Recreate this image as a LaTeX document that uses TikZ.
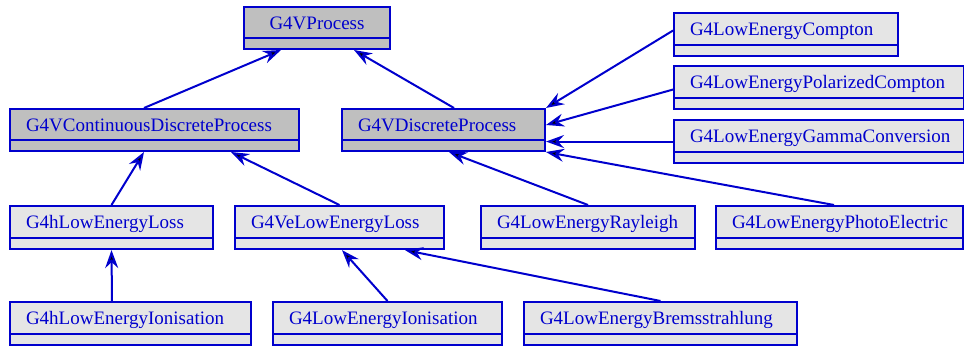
\documentclass[tikz,border=0pt]{standalone}
\usepackage{fontspec}
\setmainfont{Liberation Serif}
\usetikzlibrary{shapes.multipart,arrows.meta}
\definecolor{linkblue}{RGB}{0,0,205}
\definecolor{absgray}{RGB}{191,191,191}
\definecolor{clsgray}{RGB}{229,229,229}
\newcommand{\clsstrut}{\rule[-3pt]{0pt}{20pt}}
\newcommand{\clsname}[1]{\clsstrut#1\nodepart{two}}
\tikzset{
  classbox/.style={rectangle split, rectangle split parts=2, draw=linkblue, line width=2pt,
    text=linkblue, font=\fontsize{19}{22}\selectfont, inner xsep=16pt, inner ysep=4.5pt,
    rectangle split empty part height=0pt, anchor=north west, align=left},
  abstractclass/.style={classbox, fill=absgray},
  plainclass/.style={classbox, fill=clsgray},
  inherit/.style={draw=linkblue, line width=2pt, -{Stealth[length=18pt,width=13pt,inset=6pt]}}
}
\begin{document}
\begin{tikzpicture}[x=1pt,y=1pt]
  \useasboundingbox (0,0) rectangle (964,-347);
  % abstract base classes
  \node [abstractclass, text width=114pt, align=center] (vprocess) at (243,-6) {\clsname{G4VProcess}};
  \node [abstractclass, text width=257pt] (contdisc) at (9,-108) {\clsname{G4VContinuousDiscreteProcess}};
  \node [abstractclass, text width=171pt] (discrete) at (341,-108) {\clsname{G4VDiscreteProcess}};
  % photon processes
  \node [plainclass, text width=192pt] (compton) at (673,-12) {\clsname{G4LowEnergyCompton}};
  \node [plainclass, text width=258pt] (polcompton) at (673,-65) {\clsname{G4LowEnergyPolarizedCompton}};
  \node [plainclass, text width=258pt] (gammaconv) at (673,-119) {\clsname{G4LowEnergyGammaConversion}};
  \node [plainclass, text width=182pt] (rayleigh) at (480,-205) {\clsname{G4LowEnergyRayleigh}};
  \node [plainclass, text width=215pt] (photoel) at (715,-205) {\clsname{G4LowEnergyPhotoElectric}};
  % energy loss
  \node [plainclass, text width=171pt] (hloss) at (9,-205) {\clsname{G4hLowEnergyLoss}};
  \node [plainclass, text width=177pt] (veloss) at (234,-205) {\clsname{G4VeLowEnergyLoss}};
  \node [plainclass, text width=209pt] (hionis) at (9,-301) {\clsname{G4hLowEnergyIonisation}};
  \node [plainclass, text width=197pt] (eionis) at (272,-301) {\clsname{G4LowEnergyIonisation}};
  \node [plainclass, text width=241pt] (brems) at (523,-301) {\clsname{G4LowEnergyBremsstrahlung}};

  % inheritance
  \draw [inherit] ([xshift=-10.5pt]contdisc.north) -- ([xshift=-36pt]vprocess.south);
  \draw [inherit] ([xshift=10.5pt]discrete.north) -- ([xshift=37pt]vprocess.south);
  \draw [inherit] (hloss.north) -- ([xshift=-10.5pt]contdisc.south);
  \draw [inherit] (veloss.north) -- ([xshift=76.5pt]contdisc.south);
  \draw [inherit] ([xshift=-18.5pt]hionis.north) -- (hloss.south);
  \draw [inherit] (eionis.north) -- ([xshift=2.5pt]veloss.south);
  \draw [inherit] (brems.north) -- ([xshift=65.5pt]veloss.south);
  \draw [inherit] (rayleigh.north) -- ([xshift=5.5pt]discrete.south);
  \draw [inherit] ([xshift=-5.5pt]photoel.north) -- (discrete.south east);
  \draw [inherit] ([yshift=4pt]compton.west) -- (discrete.north east);
  \draw [inherit] ([yshift=-2pt]polcompton.west) -- ([yshift=-17pt]discrete.north east);
  \draw [inherit] (gammaconv.west) -- (gammaconv.west -| discrete.east);
\end{tikzpicture}
\end{document}
